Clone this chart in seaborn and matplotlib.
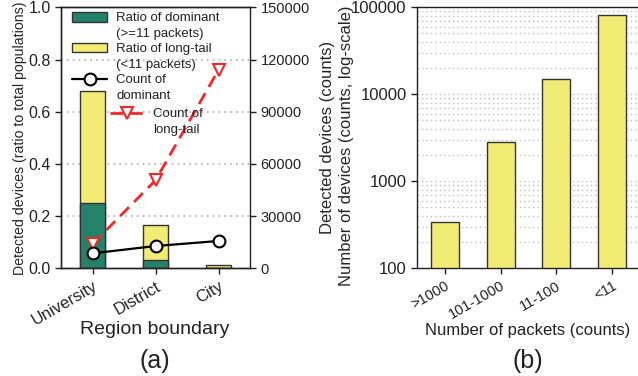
import numpy as np
import pandas as pd
import matplotlib
matplotlib.use("Agg")
import matplotlib.pyplot as plt
import seaborn as sns
from matplotlib.ticker import LogLocator, NullFormatter, FixedLocator, FixedFormatter
from matplotlib.patches import Patch
from matplotlib.lines import Line2D

# Panel (a): device populations per region boundary
regions = ["University", "District", "City"]
ratio_dominant = [0.25, 0.03, 0.001]
ratio_longtail = [0.43, 0.135, 0.012]
count_dominant = [8600, 12800, 15700]
count_longtail = [13900, 50600, 114000]

# Panel (b): devices binned by number of packets
packet_bins = [">1000", "101-1000", "11-100", "<11"]
device_counts = [340, 2850, 14900, 81500]

GREEN = "#25826a"
YELLOW = "#f3ec74"
EDGE = "#333333"
RED = "#f02828"

sns.set_theme(style="ticks")
plt.rcParams["font.family"] = ["Liberation Sans", "DejaVu Sans"]
plt.rcParams["axes.edgecolor"] = "#222222"
plt.rcParams["axes.linewidth"] = 1.0
plt.rcParams["xtick.color"] = "#222222"
plt.rcParams["ytick.color"] = "#222222"
plt.rcParams["text.color"] = "#222222"

fig = plt.figure(figsize=(6.38, 3.76), dpi=100)
W, H = 638, 376


def rect(x0, x1, ytop, ybot):
    return [x0 / W, 1 - ybot / H, (x1 - x0) / W, (ybot - ytop) / H]


def first_line_legend(leg, spacing=1.4):
    # put each handle level with the first line of its (two-line) label
    for t in leg.get_texts():
        t.set_linespacing(spacing)
    for col in leg._legend_handle_box.get_children():
        for row in col.get_children():
            row.align = "top"


# ---------------- panel (a) ----------------
ax = fig.add_axes(rect(61, 250, 7.3, 268.3))
df_a = pd.DataFrame({
    "region": regions,
    "dominant": ratio_dominant,
    "total": np.array(ratio_dominant) + np.array(ratio_longtail),
})
sns.barplot(data=df_a, x="region", y="total", color=YELLOW, saturation=1,
            width=0.4, edgecolor=EDGE, linewidth=1, ax=ax, zorder=2)
sns.barplot(data=df_a, x="region", y="dominant", color=GREEN, saturation=1,
            width=0.4, edgecolor=EDGE, linewidth=1, ax=ax, zorder=2)
ax.set_ylim(0, 1.0)
ax.set_yticks([0, 0.2, 0.4, 0.6, 0.8, 1.0])
ax.set_yticklabels(["0.0", "0.2", "0.4", "0.6", "0.8", "1.0"])
for yv in [0.2, 0.4, 0.6, 0.8]:
    ax.axhline(yv, color="#b0b0b0", lw=1.2, ls=(0, (1, 2.5)), zorder=0)
ax.set_ylabel("Detected devices (ratio to total populations)", fontsize=10.2)
ax.yaxis.set_label_coords(-0.18, 0.5)
ax.set_xlabel("")

ax2 = ax.twinx()
sns.pointplot(x=regions, y=count_dominant, ax=ax2, color="black", markers="o",
              linestyles="-", linewidth=1.6, markersize=8.5, markeredgewidth=1.5,
              errorbar=None, zorder=5)
sns.pointplot(x=regions, y=count_longtail, ax=ax2, color=RED, markers="v",
              linestyles="--", linewidth=2, markersize=8.5, markeredgewidth=1.5,
              errorbar=None, zorder=4)
for ln in ax2.lines:
    ln.set_markerfacecolor("white")
ax2.lines[1].set_dashes((4.5, 2.6))
ax2.set_ylim(0, 150000)
ax2.set_yticks(np.arange(0, 150001, 30000))
ax2.set_yticklabels([str(v) for v in range(0, 150001, 30000)])
ax2.set_ylabel("Detected devices (counts)", fontsize=12)
ax2.yaxis.set_label_coords(1.372, 0.5)
ax.set_xlim(-0.5, 2.5)
ax.set_xticks([0, 1, 2])
ax.set_xticklabels(regions, rotation=30, ha="right", rotation_mode="anchor")
ax2.set_xlabel("")

for a in (ax, ax2):
    a.tick_params(axis="x", labelsize=12, direction="out", length=4, width=1)
    for s in a.spines.values():
        s.set_linewidth(1.0)
ax.tick_params(axis="y", labelsize=11.5, direction="out", length=4, width=1)
ax2.tick_params(axis="y", labelsize=10.5, direction="out", length=4, width=1)
ax.spines["right"].set_visible(False)

h1 = [
    Patch(facecolor=GREEN, edgecolor=EDGE, lw=1),
    Patch(facecolor=YELLOW, edgecolor=EDGE, lw=1),
    Line2D([], [], color="black", lw=1.6, marker="o", ms=8.5, mfc="white", mew=1.5),
]
l1 = ["Ratio of dominant\n(>=11 packets)", "Ratio of long-tail\n(<11 packets)",
      "Count of\ndominant"]
leg1 = ax2.legend(h1, l1, loc="upper left", bbox_to_anchor=(0.01, 1.016), frameon=False,
                  fontsize=9.5, handlelength=2.65, labelspacing=0.25, handletextpad=0.68,
                  borderaxespad=0.3)
first_line_legend(leg1)
ax2.add_artist(leg1)
h2 = [Line2D([], [], color=RED, lw=2, ls=(0, (4.5, 2.6)), marker="v", ms=8.5,
             mfc="white", mew=1.5)]
leg2 = ax2.legend(h2, ["Count of\nlong-tail"], loc="upper left",
                  bbox_to_anchor=(0.21, 0.648), frameon=False, fontsize=9.5,
                  handlelength=2.65, handletextpad=0.65, borderaxespad=0.3)
first_line_legend(leg2)

fig.text(155 / W, 1 - 329.5 / H, "Region boundary", ha="center", va="center", fontsize=14)
fig.text(155 / W, 1 - 361 / H, "(a)", ha="center", va="center", fontsize=18)

# ---------------- panel (b) ----------------
bx = fig.add_axes(rect(417, 640, 7.3, 268.3))
bx.set_yscale("log")
df_b = pd.DataFrame({"bin": packet_bins, "devices": device_counts})
sns.barplot(data=df_b, x="bin", y="devices", color=YELLOW, saturation=1, width=0.5,
            edgecolor=EDGE, linewidth=1, ax=bx, zorder=2)
bx.set_ylim(100, 100000)
bx.yaxis.set_major_locator(FixedLocator([100, 1000, 10000, 100000]))
bx.yaxis.set_major_formatter(FixedFormatter(["100", "1000", "10000", "100000"]))
bx.yaxis.set_minor_locator(LogLocator(base=10, subs=np.arange(2, 10)))
bx.yaxis.set_minor_formatter(NullFormatter())
bx.grid(True, which="both", axis="y", color="#bdbdbd", lw=1.0, ls=(0, (1, 2.2)), zorder=0)
bx.set_axisbelow(True)
bx.set_xlim(-0.5, 3.5)
bx.set_xticks(range(4))
bx.set_xticklabels(packet_bins, rotation=30, ha="right", rotation_mode="anchor")
bx.tick_params(axis="y", labelsize=12, direction="out", length=4, width=1)
bx.tick_params(axis="x", labelsize=10.5, direction="out", length=4, width=1)
bx.tick_params(axis="y", which="minor", length=0)
bx.set_xlabel("")
bx.set_ylabel("Number of devices (counts, log-scale)", fontsize=12)
bx.yaxis.set_label_coords(-0.283, 0.47)
for s in bx.spines.values():
    s.set_linewidth(1.0)

fig.text(528 / W, 1 - 331 / H, "Number of packets (counts)", ha="center", va="center",
         fontsize=12)
fig.text(528 / W, 1 - 361 / H, "(b)", ha="center", va="center", fontsize=18)

fig.savefig("out.png", dpi=100)
